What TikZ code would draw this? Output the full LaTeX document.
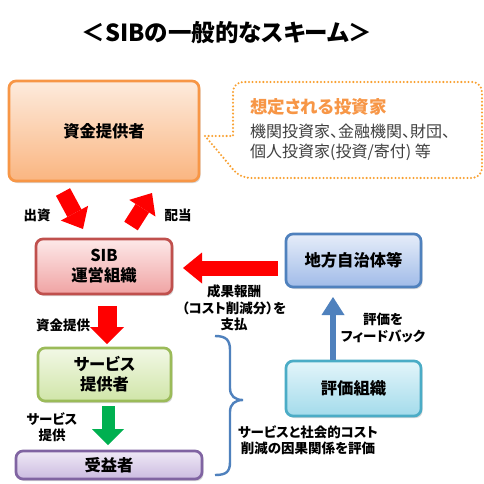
\documentclass[tikz,border=0pt]{standalone}
\usepackage{fontspec}
\setmainfont{Noto Sans CJK JP}[RawFeature=+palt]
\usetikzlibrary{arrows.meta,shadows}
\definecolor{orgB}{HTML}{F79646}
\definecolor{orgT}{HTML}{FDEBDD}
\definecolor{orgBt}{HTML}{FAB580}
\definecolor{redB}{HTML}{C0504D}
\definecolor{redT}{HTML}{FDE9E9}
\definecolor{redBt}{HTML}{F0A3A3}
\definecolor{bluB}{HTML}{4F81BD}
\definecolor{bluT}{HTML}{E6EDF9}
\definecolor{bluBt}{HTML}{A0BBE8}
\definecolor{grnB}{HTML}{9BBB59}
\definecolor{grnT}{HTML}{F2F8E6}
\definecolor{grnBt}{HTML}{D0E5A8}
\definecolor{tealB}{HTML}{4BACC6}
\definecolor{tealT}{HTML}{E3F5FA}
\definecolor{tealBt}{HTML}{A3DBEB}
\definecolor{purB}{HTML}{8064A2}
\definecolor{purT}{HTML}{EFE9F6}
\definecolor{purBt}{HTML}{CBBBE0}
\definecolor{dotO}{HTML}{F9A030}
\definecolor{txtG}{HTML}{404040}
\definecolor{arG}{HTML}{00B050}
\begin{document}
\begin{tikzpicture}[x=1pt,y=-1pt,
  box/.style={rounded corners=7pt, line width=2.7pt, align=center, inner sep=0pt,
    font=\bfseries\fontsize{16.3}{20}\selectfont,
    drop shadow={opacity=0.3,shadow xshift=1.5pt,shadow yshift=-2pt}},
  lbl/.style={font=\bfseries\fontsize{13.5}{16.5}\selectfont, align=center, inner sep=0pt},
  blk/.style={line width=#1},
  tipA/.style n args={2}{-{Triangle[length=#1,width=#2,line width=0pt]}}
]
\fill[white] (0,0) rectangle (484,484);
\useasboundingbox (0,0) rectangle (484,484);

\node[font=\bfseries\fontsize{23.5}{25}\selectfont] (title) at (227,33) {＜SIBの一般的なスキーム＞};

% boxes
\node[box, draw=orgB, top color=orgT, bottom color=orgBt, minimum width=190pt, minimum height=100pt] (inv) at (104,131) {資金提供者};
\node[box, draw=redB, top color=redT, bottom color=redBt, minimum width=136pt, minimum height=55pt] (sib) at (104,266.5) {SIB\\運営組織};
\node[box, draw=bluB, top color=bluT, bottom color=bluBt, minimum width=135pt, minimum height=53pt] (gov) at (353.5,260.5) {地方自治体等};
\node[box, draw=tealB, top color=tealT, bottom color=tealBt, minimum width=135pt, minimum height=55pt] (eva) at (353.5,388.5) {評価組織};
\node[box, draw=grnB, top color=grnT, bottom color=grnBt, minimum width=133pt, minimum height=53pt] (svc) at (104.5,374.5) {サービス\\提供者};
\node[box, draw=purB, top color=purT, bottom color=purBt, minimum width=186pt, minimum height=28pt] (ben) at (109,465) {受益者};

% callout
\draw[dotO, line width=2.3pt, line cap=round, dash pattern=on 0pt off 3.6pt]
  (205,136) -- (233,136) -- (233,120) [rounded corners=10pt] -- (233,82) -- (482,82) -- (482,178) -- (240,178) -- (222,156) [sharp corners] -- cycle;
\node[anchor=west, inner sep=0pt, text=orgB, font=\bfseries\fontsize{17.5}{18}\selectfont] (ct) at (250,107) {想定される投資家};
\node[anchor=west, inner sep=0pt, text=txtG, font=\fontsize{16}{20}\selectfont, align=left] (cb) at (250,142) {機関投資家、金融機関、財団、\\個人投資家(投資/寄付) 等};

% arrow end points
\coordinate (a1s) at (63,192);  \coordinate (a1e) at (83,229);
\coordinate (a2s) at (131,226); \coordinate (a2e) at (152,193);
\coordinate (a3s) at (278,268); \coordinate (a3e) at (183,268);
\coordinate (a4s) at (107,306); \coordinate (a4e) at (107,344);
\coordinate (a5s) at (108,406); \coordinate (a5e) at (108,445);
\coordinate (a6s) at (333,360); \coordinate (a6e) at (333,297);

\draw[red, blk=16pt, tipA={18pt}{31pt}] (a1s) -- (a1e);
\draw[red, blk=16pt, tipA={18pt}{31pt}] (a2s) -- (a2e);
\draw[red, blk=15pt, tipA={19pt}{31pt}] (a3s) -- (a3e);
\draw[red, blk=19pt, tipA={17pt}{34pt}] (a4s) -- (a4e);
\draw[arG, blk=13pt, tipA={16pt}{32pt}] (a5s) -- (a5e);
\draw[bluB, blk=6pt, tipA={18pt}{23pt}] (eva.north -| a6s) -- (a6e);

% brace
\draw[bluB, line width=2.4pt] (215,336) .. controls (226,336) and (230,340) .. (230,350) -- (230,388)
  .. controls (230,396) and (235,400) .. (243,400) .. controls (235,400) and (230,404) .. (230,412)
  -- (230,462) .. controls (230,472) and (226,475) .. (215,475);

% labels
\node[lbl] (l1) at (37,215) {出資};
\node[lbl] (l2) at (178,215) {配当};
\node[lbl] (l3) at (63,325) {資金提供};
\node[lbl] (l4) at (234,308) {成果報酬\\（コスト削減分）を\\支払};
\node[lbl] (l5) at (383,328) {評価を\\フィードバック};
\node[lbl] (l6) at (52,427) {サービス\\提供};
\node[lbl] (l7) at (308,440) {サービスと社会的コスト\\削減の因果関係を評価};
\end{tikzpicture}
\end{document}
